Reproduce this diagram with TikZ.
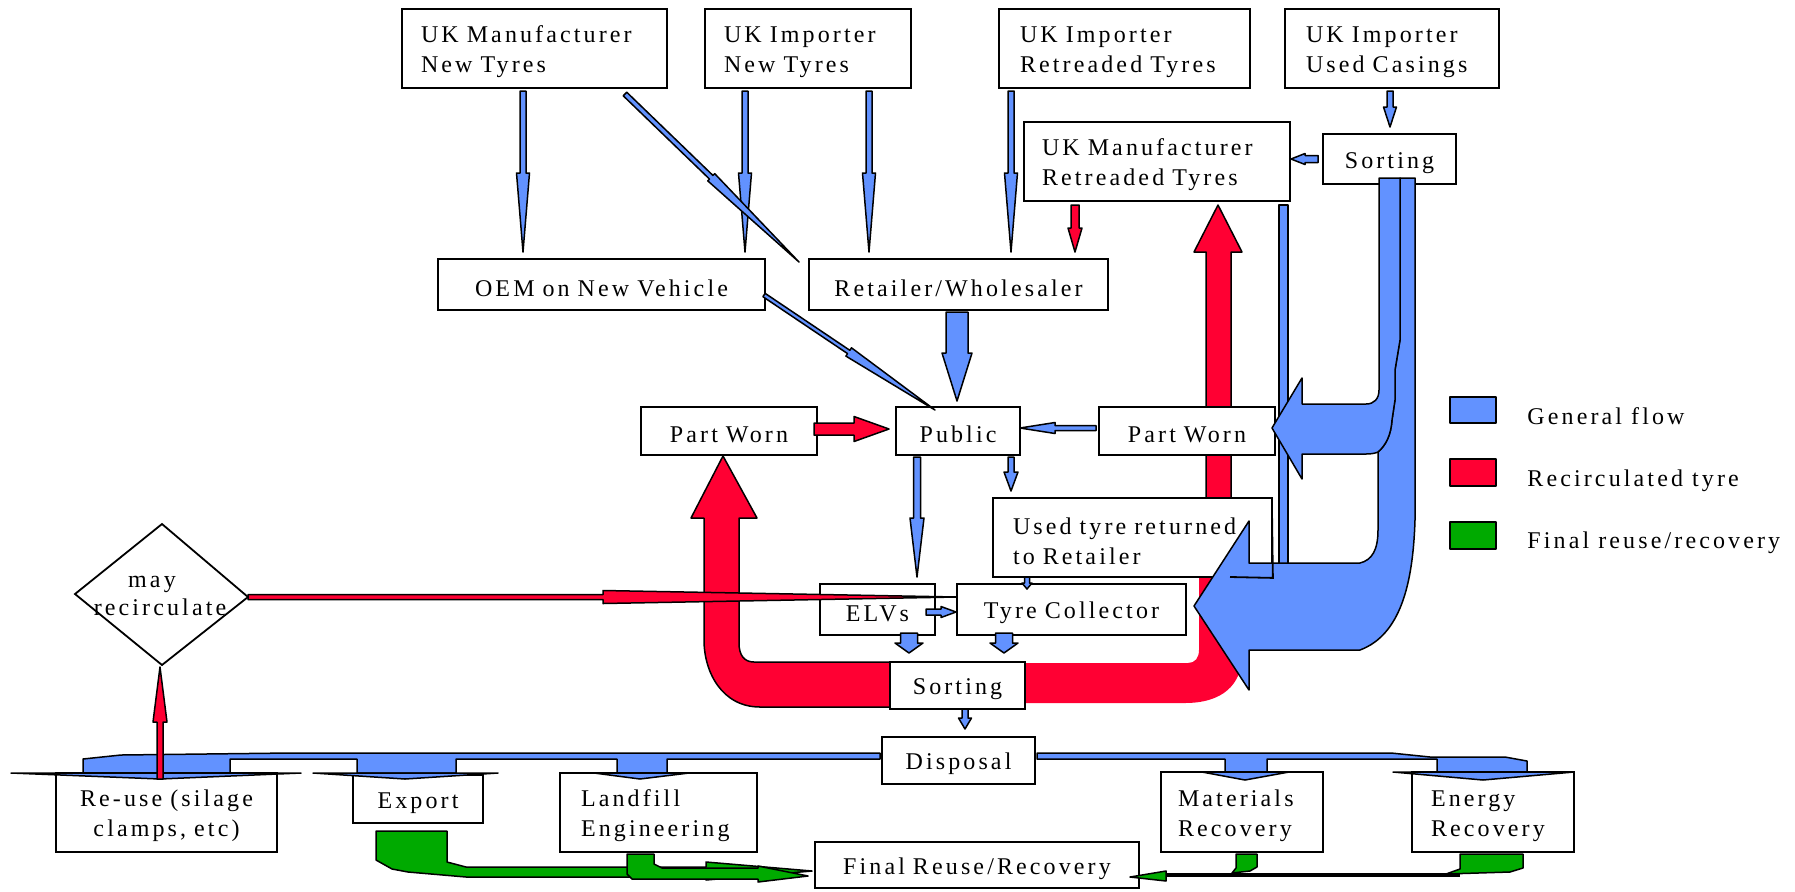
\documentclass[tikz,border=0pt]{standalone}
\usepackage{fontspec}
\setmainfont{Liberation Serif}[LetterSpace=13]
\definecolor{flowblue}{RGB}{98,146,255}
\definecolor{flowred}{RGB}{255,0,51}
\definecolor{flowgreen}{RGB}{0,170,0}
\newcommand\fs{\fontsize{12}{15}\selectfont}
\tikzset{
 box/.style={draw, fill=white, line width=0.9pt, inner ysep=0pt, font=\fs},
 txt/.style={font=\fs, inner sep=0pt},
 fb/.style={fill=flowblue, draw=black, line width=0.75pt, line join=round},
 fr/.style={fill=flowred, draw=black, line width=0.75pt, line join=round},
 fg/.style={fill=flowgreen, draw=black, line width=0.75pt, line join=round},
 edge/.style={draw=black, line width=0.9pt},
}
% box: name x1 y1 x2 y2 pad align text
\newcommand\bx[8]{%
 \pgfmathsetmacro\bw{((#4)-(#2))*0.5}%
 \pgfmathsetmacro\bh{((#5)-(#3))*0.5}%
 \pgfmathsetmacro\bp{(#6)*0.5}%
 \pgfmathsetmacro\bt{\bw-2*\bp}%
 \node[box, inner xsep=\bp pt, text width=\bt pt, minimum height=\bh pt, align=#7] (#1) at ({((#2)+(#4))/2},{((#3)+(#5))/2}) {\rule{0pt}{12pt}#8};}
% flow arrow: style x1 y1 x2 y2 shaftwidth headwidth headlength
\newcommand\farrow[8]{%
 \pgfmathsetmacro\fa{atan2(-(#5)+(#3),(#4)-(#2))}%
 \pgfmathsetmacro\fl{veclen((#4)-(#2),(#5)-(#3))}%
 \filldraw[#1, shift={(#2,#3)}, rotate=\fa] (0,{-(#6)/2}) -- ({\fl-(#8)},{-(#6)/2}) -- ({\fl-(#8)},{-(#7)/2}) -- (\fl,0) -- ({\fl-(#8)},{(#7)/2}) -- ({\fl-(#8)},{(#6)/2}) -- (0,{(#6)/2}) -- cycle;}
\begin{document}
\begin{tikzpicture}[x=0.5pt,y=-0.5pt]
\useasboundingbox (0,0) rectangle (1795,891);
% ---- big red flows (behind boxes)
\filldraw[fr] (900,662) -- (754,662) .. controls (744,662) and (739,655) .. (739,643) -- (739,518) -- (757,518) -- (723,456) -- (691,518) -- (704,518) -- (704,640) .. controls (704,672) and (722,707) .. (760,707) -- (900,707) -- cycle;
\fill[flowred] (1015,663) -- (1188,663) .. controls (1195,663) and (1199,658) .. (1199,650) -- (1199,578) -- (1242,578) -- (1242,655) .. controls (1242,685) and (1222,703) .. (1185,703) -- (1015,703) -- cycle;
\filldraw[fr] (1206,575) -- (1206,252) -- (1194,252) -- (1218,205) -- (1242,252) -- (1231,252) -- (1231,575) -- cycle;
% ---- blue strip and disposal band
\filldraw[fb] (1279,205) rectangle (1288,565);
\filldraw[fb] (880,753) -- (290,753) -- (121,755) -- (83,759) -- (83,773) -- (230,773) -- (230,759) -- (357,759) -- (357,773) -- (456,773) -- (456,759) -- (617,759) -- (617,773) -- (667,773) -- (667,759) -- (880,759) -- cycle;
\filldraw[fb] (1037,753) -- (1391,753) -- (1430,757) -- (1505,757) -- (1527,761) -- (1527,772) -- (1437,772) -- (1437,759) -- (1267,759) -- (1267,772) -- (1225,772) -- (1225,759) -- (1037,759) -- cycle;
% ---- boxes
\bx{ukmnew}{402}{9}{667}{88}{19}{left}{UK Manufacturer\\New Tyres}
\bx{ukinew}{705}{9}{911}{88}{19}{left}{UK Importer\\New Tyres}
\bx{ukiretr}{999}{9}{1250}{88}{21}{left}{UK Importer\\Retreaded Tyres}
\bx{ukicas}{1285}{9}{1499}{88}{21}{left}{UK Importer\\Used Casings}
\bx{ukmretr}{1024}{122}{1290}{201}{18}{left}{UK Manufacturer\\Retreaded Tyres}
\bx{sorttop}{1323}{134}{1456}{184}{5}{center}{Sorting}
\bx{oem}{438}{259}{765}{310}{5}{center}{OEM on New Vehicle}
\bx{retail}{809}{259}{1108}{310}{5}{center}{Retailer/Wholesaler}
\bx{pwl}{641}{407}{817}{455}{5}{center}{Part Worn}
\bx{public}{896}{407}{1020}{455}{5}{center}{Public}
\bx{pwr}{1099}{407}{1275}{455}{5}{center}{Part Worn}
\bx{used}{993}{498}{1272}{577}{20}{left}{\mbox{Used tyre returned}\\to Retailer}
\bx{elvs}{820}{584}{935}{635}{3}{center}{ELVs}
\bx{coll}{957}{584}{1186}{635}{5}{center}{Tyre Collector}
\bx{sortmid}{890}{662}{1025}{709}{5}{center}{Sorting}
\bx{disp}{882}{737}{1035}{784}{5}{center}{Disposal}
\bx{reuse}{56}{773}{277}{852}{5}{center}{Re-use (silage\\clamps, etc)}
\bx{export}{353}{775}{483}{823}{5}{center}{Export}
\bx{landfill}{560}{773}{757}{852}{21}{left}{Landfill\\Engineering}
\bx{final}{815}{842}{1139}{888}{5}{center}{Final Reuse/Recovery}
\bx{mat}{1161}{772}{1323}{852}{17}{left}{Materials\\Recovery}
\bx{energy}{1412}{772}{1574}{852}{19}{left}{Energy\\Recovery}
% ---- big blue flows from top sorting
\filldraw[fb] (1400,178) -- (1415,178) -- (1415,520) .. controls (1413,585) and (1400,635) .. (1360,650) -- (1249,650) -- (1249,690) -- (1194,606) -- (1249,521) -- (1249,563) -- (1360,563) .. controls (1372,560) and (1378,550) .. (1378,530) -- (1378,452) .. controls (1386,445) and (1391,435) .. (1392,420) -- (1395,400) -- (1395,370) -- (1400,340) -- cycle;
\filldraw[fb] (1379,178) -- (1379,390) .. controls (1379,399) and (1374,404) .. (1366,404) -- (1302,404) -- (1302,378) -- (1272,428) -- (1302,479) -- (1302,454) -- (1366,454) .. controls (1372,454) and (1376,453) .. (1378,452) .. controls (1386,445) and (1391,435) .. (1392,420) -- (1395,400) -- (1395,370) -- (1400,340) -- (1400,178) -- cycle;
\draw[edge] (1230,577) -- (used.south east) -- (1272,512);
% ---- disposal heads
\filldraw[fb] (11,773) -- (160,779) -- (301,773) -- cycle;
\filldraw[fb] (313,773) -- (405,779) -- (498,773) -- cycle;
\filldraw[fb] (594,773) -- (640,779) -- (689,773) -- cycle;
\filldraw[fb] (1202,772) -- (1245,780) -- (1289,772) -- cycle;
\filldraw[fb] (1393,772) -- (1483,780) -- (1574,772) -- cycle;
% ---- thin arrows
\farrow{fb}{523}{91}{523}{252}{6}{13}{79}
\farrow{fb}{745}{91}{745}{252}{6}{13}{79}
\farrow{fb}{869}{91}{869}{252}{6}{13}{79}
\farrow{fb}{1011}{91}{1011}{252}{6}{13}{79}
\farrow{fr}{1075}{205}{1075}{252}{8}{14}{24}
\farrow{fb}{1390}{91}{1390}{127}{6}{13}{20}
\farrow{fb}{1318}{159}{1291}{159}{7}{11}{14}
\farrow{fb}{625}{94}{799}{262}{5}{10}{122}
\farrow{fb}{764}{295}{935}{410}{4}{10}{104}
\farrow{fb}{957}{312}{957}{401}{22}{30}{48}
\farrow{fr}{814}{429}{889}{429}{12}{25}{35}
\farrow{fb}{1096}{428}{1020}{428}{5}{11}{35}
\farrow{fb}{917}{457}{917}{577}{7}{14}{59}
\farrow{fb}{1011}{457}{1011}{491}{6}{14}{19}
\farrow{fb}{1027}{577}{1027}{589}{5}{10}{6}
\farrow{fb}{926}{612}{956}{612}{6}{11}{15}
\farrow{fb}{909}{633}{909}{653}{17}{28}{10}
\farrow{fb}{1004}{633}{1004}{653}{17}{28}{10}
\farrow{fb}{965}{709}{965}{729}{6}{13}{11}
\farrow{fr}{248}{597}{957}{597}{5}{13}{354}
\farrow{fr}{160}{779}{160}{667}{6}{14}{55}
% ---- green flows
\filldraw[fg] (376,831) -- (447,831) -- (447,862) -- (466,867) -- (706,867) -- (706,862) -- (812,871) -- (706,880) -- (706,877) -- (466,877) -- (408,872) -- (392,869) -- (376,860) -- cycle;
\filldraw[fg] (627,854) -- (654,854) -- (654,864) -- (662,868) -- (758,868) -- (758,866) -- (808,876) -- (758,882) -- (758,879) -- (632,879) -- (627,874) -- cycle;
\filldraw[fg] (1460,854) -- (1523,854) -- (1523,868) -- (1510,872) -- (1446,874) -- (1460,869) -- cycle;
\draw[line width=1.6pt] (1460,875) -- (1160,875);
\filldraw[fg] (1236,854) -- (1257,854) -- (1257,867) -- (1250,871) -- (1232,873) -- (1236,868) -- cycle;
\filldraw[fg] (1166,871) -- (1130,877) -- (1166,881) -- cycle;
% ---- diamond
\draw[line width=0.9pt] (75,594) -- (162,524) -- (248,597) -- (162,665) -- cycle;
\node[txt, anchor=base] (recirc1) at (152,587) {may};
\node[txt, anchor=base] (recirc2) at (160,615) {recirculate};
% ---- legend
\filldraw[fb, line width=0.9pt] (1450,397) rectangle (1496,423);
\filldraw[fr, line width=0.9pt] (1450,459) rectangle (1496,486);
\filldraw[fg, line width=0.9pt] (1450,522) rectangle (1496,549);
\node[txt, anchor=base west] (lg1) at (1527,424) {General flow};
\node[txt, anchor=base west] (lg2) at (1527,486) {Recirculated tyre};
\node[txt, anchor=base west] (lg3) at (1527,548) {Final reuse/recovery};
\end{tikzpicture}
\end{document}
